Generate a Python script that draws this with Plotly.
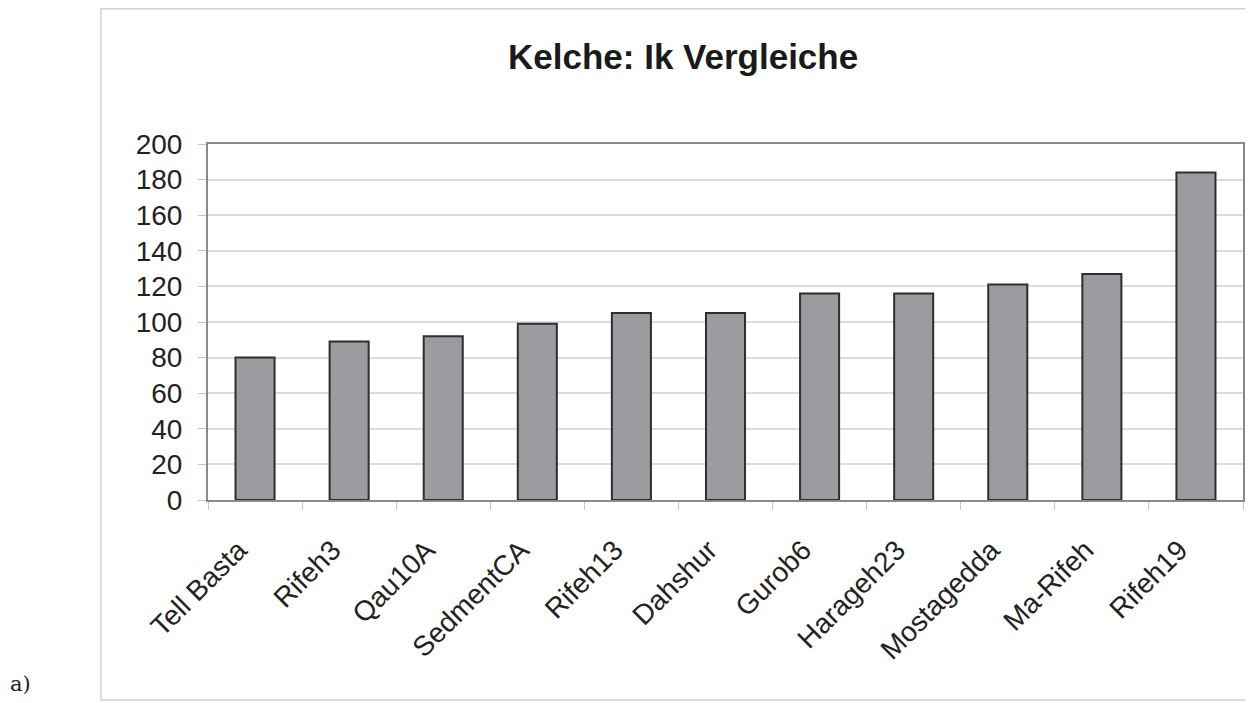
import plotly.graph_objects as go

categories = ["Tell Basta", "Rifeh3", "Qau10A", "SedmentCA", "Rifeh13", "Dahshur",
              "Gurob6", "Harageh23", "Mostagedda", "Ma-Rifeh", "Rifeh19"]
values = [80, 89, 92, 99, 105, 105, 116, 116, 121, 127, 184]
y_ticks = [0, 20, 40, 60, 80, 100, 120, 140, 160, 180, 200]

# page body has an 8px margin, so figure coords = screen coords - 8
OFF = 8
W, H = 1253 - OFF, 703 - OFF
L, R, T, B = 208 - OFF, 1243 - OFF, 144 - OFF, 500 - OFF

fig = go.Figure(go.Bar(
    x=categories, y=values,
    marker=dict(color="#9b9ba0", line=dict(color="#2e2e2e", width=2)),
    width=0.415,
))

def px_x(p):
    return (p - OFF - L) / (R - L)

def px_y(p):
    return (B - (p - OFF)) / (B - T)

fig.add_shape(type="rect", xref="paper", yref="paper",
              x0=px_x(101), x1=px_x(1250), y0=px_y(700), y1=px_y(8.8),
              line=dict(color="#d4d4d4", width=1.5), layer="below")

fig.add_annotation(text="<b>Kelche: Ik Vergleiche</b>", xref="paper", yref="paper",
                   x=px_x(683), y=px_y(57), showarrow=False,
                   font=dict(family="Liberation Sans, Arial", size=35, color="#1a1a1a"),
                   xanchor="center", yanchor="middle")

fig.add_annotation(text="a)", xref="paper", yref="paper",
                   x=px_x(8), y=px_y(684), showarrow=False,
                   font=dict(family="DejaVu Serif, Liberation Serif", size=21, color="#222"),
                   xanchor="left", yanchor="middle")

fig.update_layout(
    width=W, height=H,
    margin=dict(l=L, r=W - R, t=T, b=H - B, autoexpand=False),
    paper_bgcolor="white", plot_bgcolor="white",
    showlegend=False,
    font=dict(family="Liberation Sans, Arial", color="#222"),
)
# trailing non-breaking spaces nudge the rotated labels to the left of the tick, as in the reference
pad = "\u00a0" * 3
fig.update_xaxes(
    type="category", tickangle=-45, tickfont=dict(size=28, color="#222"),
    tickvals=categories, ticktext=[c + pad for c in categories],
    showline=True, linecolor="#8a8a8a", linewidth=2, mirror=True,
    ticks="outside", tickson="boundaries", ticklen=8, tickcolor="#c4c4c4",
    showgrid=False, ticklabelstandoff=4,
)
fig.update_yaxes(
    range=[0, 200], tickvals=y_ticks, tickfont=dict(size=28, color="#222"),
    showline=True, linecolor="#8a8a8a", linewidth=2, mirror=True,
    ticks="outside", ticklen=8, tickcolor="#c4c4c4", ticklabelstandoff=10,
    showgrid=True, gridcolor="#dcdcdc", gridwidth=1.5, zeroline=False,
)

fig.write_html("out.html")
